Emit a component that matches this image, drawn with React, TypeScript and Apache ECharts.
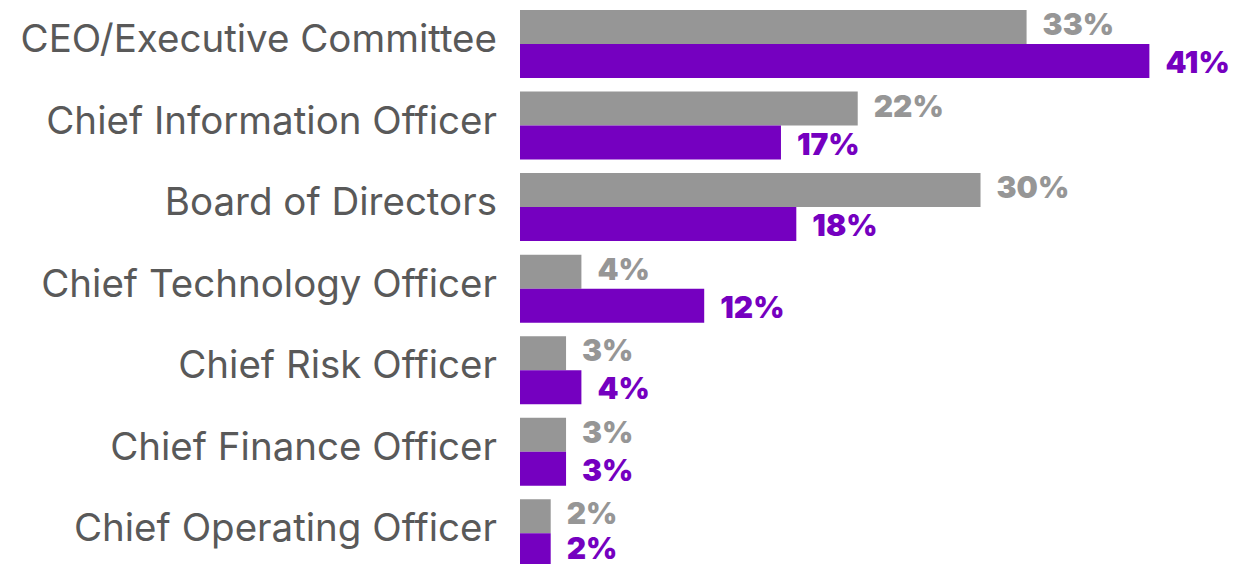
import React, { useEffect, useRef } from "react";
import * as echarts from "echarts";

const categories = [
  "CEO/Executive Committee",
  "Chief Information Officer",
  "Board of Directors",
  "Chief Technology Officer",
  "Chief Risk Officer",
  "Chief Finance Officer",
  "Chief Operating Officer",
];
const grayValues = [33, 22, 30, 4, 3, 3, 2];
const purpleValues = [41, 17, 18, 12, 4, 3, 2];

const GRAY = "#969696";
const PURPLE = "#7500C0";
const TEXT = "#595959";

export default function App() {
  const ref = useRef<HTMLDivElement>(null);
  useEffect(() => {
    if (!ref.current) return;
    const chart = echarts.init(ref.current, undefined, { renderer: "svg" });
    const labelBase = {
      show: true,
      position: "right",
      distance: 16,
      formatter: "{c}%",
      fontFamily: "Inter",
      fontWeight: 900,
      fontSize: 30,
      lineHeight: 26,
    };
    const lastIdx = purpleValues.length - 1;
    const purpleData = purpleValues.map((v, i) =>
      i === lastIdx ? { value: v, label: { offset: [0, -2] } } : v
    );
    chart.setOption({
      animation: false,
      grid: { left: 520, top: 3.25, right: 24, bottom: 0, containLabel: false },
      xAxis: {
        type: "value",
        min: 0,
        max: 45.6,
        show: false,
      },
      yAxis: {
        type: "category",
        data: categories,
        inverse: true,
        axisLine: { show: false },
        axisTick: { show: false },
        splitLine: { show: false },
        axisLabel: {
          margin: 23,
          color: TEXT,
          fontFamily: "Inter",
          fontSize: 38.5,
          fontWeight: 400,
          verticalAlign: "middle",
          formatter: (v: string) => "{a|" + v + "}",
          rich: {
            a: {
              color: TEXT,
              fontFamily: "Inter",
              fontSize: 38.5,
              fontWeight: 400,
              lineHeight: 46,
              padding: [0, 0, 12, 0],
            },
          },
        },
      },
      series: [
        {
          type: "bar",
          data: grayValues,
          barWidth: 34,
          barGap: "0%",
          itemStyle: { color: GRAY },
          label: { ...labelBase, color: GRAY, offset: [0, -3] },
        },
        {
          type: "bar",
          data: purpleData,
          barWidth: 34,
          barGap: "0%",
          itemStyle: { color: PURPLE },
          label: { ...labelBase, color: PURPLE, offset: [0, 1] },
        },
      ],
    });
    return () => chart.dispose();
  }, []);
  return (
    <div
      ref={ref}
      style={{ position: "fixed", left: 0, top: 0, width: 1244, height: 574, background: "#fff" }}
    />
  );
}
